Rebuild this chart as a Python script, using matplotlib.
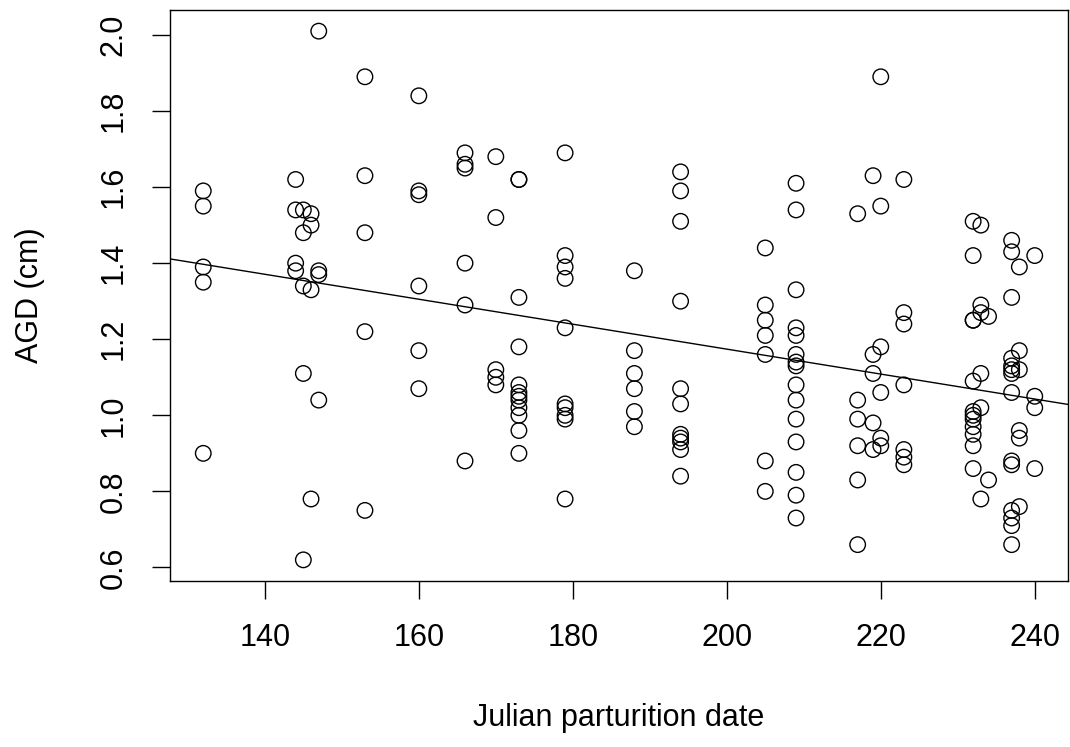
import matplotlib
matplotlib.use("Agg")
import matplotlib.pyplot as plt

# Data (Julian parturition date, AGD in cm)
day = [132, 132, 132, 132, 132,
       144, 144, 144, 144,
       145, 145, 145, 145, 145,
       146, 146, 146, 146,
       147, 147, 147, 147,
       153, 153, 153, 153, 153,
       160, 160, 160, 160, 160, 160,
       166, 166, 166, 166, 166, 166,
       170, 170, 170, 170, 170,
       173, 173, 173, 173, 173, 173, 173, 173, 173, 173, 173, 173,
       179, 179, 179, 179, 179, 179, 179, 179, 179, 179,
       188, 188, 188, 188, 188, 188,
       194, 194, 194, 194, 194, 194, 194, 194, 194, 194, 194,
       205, 205, 205, 205, 205, 205, 205,
       209, 209, 209, 209, 209, 209, 209, 209, 209, 209, 209, 209, 209, 209, 209,
       217, 217, 217, 217, 217, 217,
       219, 219, 219, 219, 219,
       220, 220, 220, 220, 220, 220,
       223, 223, 223, 223, 223, 223, 223,
       232, 232, 232, 232, 232, 232, 232, 232, 232, 232, 232, 232,
       233, 233, 233, 233, 233, 233,
       234, 234,
       237, 237, 237, 237, 237, 237, 237, 237, 237, 237, 237, 237, 237, 237,
       238, 238, 238, 238, 238, 238,
       240, 240, 240, 240]

agd = [1.59, 1.55, 1.39, 1.35, 0.90,
       1.62, 1.54, 1.40, 1.38,
       1.54, 1.48, 1.34, 1.11, 0.62,
       1.53, 1.50, 1.33, 0.78,
       2.01, 1.38, 1.37, 1.04,
       1.89, 1.63, 1.48, 1.22, 0.75,
       1.84, 1.59, 1.58, 1.34, 1.17, 1.07,
       1.69, 1.66, 1.65, 1.40, 1.29, 0.88,
       1.68, 1.52, 1.12, 1.10, 1.08,
       1.62, 1.62, 1.31, 1.18, 1.08, 1.06, 1.05, 1.04, 1.02, 1.00, 0.96, 0.90,
       1.69, 1.42, 1.39, 1.36, 1.23, 1.03, 1.02, 1.00, 0.99, 0.78,
       1.38, 1.17, 1.11, 1.07, 1.01, 0.97,
       1.64, 1.59, 1.51, 1.30, 1.07, 1.03, 0.95, 0.94, 0.93, 0.91, 0.84,
       1.44, 1.29, 1.25, 1.21, 1.16, 0.88, 0.80,
       1.61, 1.54, 1.33, 1.23, 1.21, 1.16, 1.14, 1.13, 1.08, 1.04, 0.99, 0.93, 0.85, 0.79, 0.73,
       1.53, 1.04, 0.99, 0.92, 0.83, 0.66,
       1.63, 1.16, 1.11, 0.98, 0.91,
       1.89, 1.55, 1.18, 1.06, 0.94, 0.92,
       1.62, 1.27, 1.24, 1.08, 0.91, 0.89, 0.87,
       1.51, 1.42, 1.25, 1.25, 1.09, 1.01, 1.00, 0.99, 0.97, 0.95, 0.92, 0.86,
       1.50, 1.29, 1.27, 1.11, 1.02, 0.78,
       1.26, 0.83,
       1.46, 1.43, 1.31, 1.15, 1.13, 1.12, 1.11, 1.06, 0.88, 0.87, 0.75, 0.73, 0.71, 0.66,
       1.39, 1.17, 1.12, 0.96, 0.94, 0.76,
       1.42, 1.05, 1.02, 0.86]

# Fitted line
fit_intercept = 1.83
fit_slope = -0.00328

x_ticks = [140, 160, 180, 200, 220, 240]
y_ticks = [0.6, 0.8, 1.0, 1.2, 1.4, 1.6, 1.8, 2.0]
x_label = "Julian parturition date"
y_label = "AGD (cm)"

plt.rcParams['font.family'] = ['Liberation Sans', 'DejaVu Sans']
FS = 22

fig = plt.figure(figsize=(10.7, 7.47), dpi=100)
ax = fig.add_axes([170/1070, 1-581/747, 898/1070, 571/747])

ax.scatter(day, agd, s=125, facecolors='none', edgecolors='black', linewidths=1.0, zorder=3)
ax.axline((0, fit_intercept), slope=fit_slope, color='black', lw=1.0, zorder=2)

xmin, xmax = min(day), max(day)
ymin, ymax = min(agd), max(agd)
dx = (xmax - xmin) * 0.04
dy = (ymax - ymin) * 0.04
ax.set_xlim(xmin - dx, xmax + dx)
ax.set_ylim(ymin - dy, ymax + dy)

ax.set_xticks(x_ticks)
ax.set_xticklabels([str(t) for t in x_ticks])
ax.set_yticks(y_ticks)
ax.set_yticklabels([f"{t:.1f}" for t in y_ticks], rotation=90, va='center')

ax.tick_params(axis='both', direction='out', length=13, width=1.0, labelsize=FS, colors='black')
ax.tick_params(axis='x', pad=17)
ax.tick_params(axis='y', pad=17)

for sp in ax.spines.values():
    sp.set_linewidth(1.0)
    sp.set_color('black')

ax.set_xlabel(x_label, fontsize=FS)
ax.set_ylabel(y_label, fontsize=FS)
ax.xaxis.set_label_coords(0.5, (747-718-581+747)/-571*-1 if False else -(718-581)/571)
ax.xaxis.label.set_va('center')
ax.yaxis.set_label_coords(-(170-30)/898, 0.5)
ax.yaxis.label.set_va('center')

fig.savefig("out.png", dpi=100)
